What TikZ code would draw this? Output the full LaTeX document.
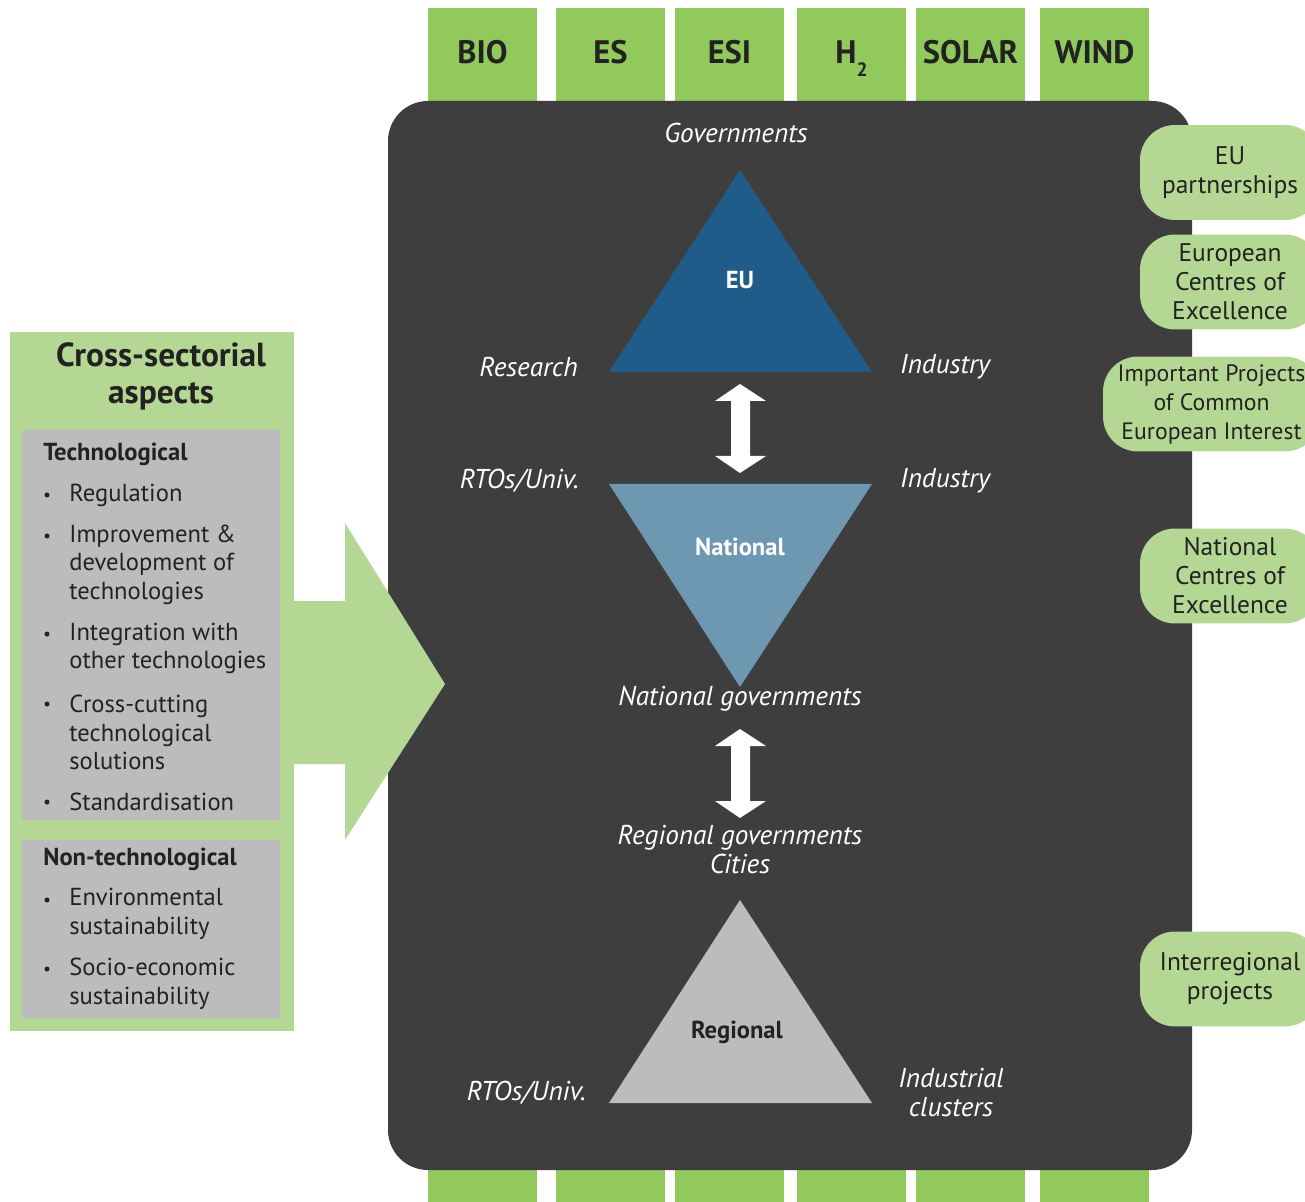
\documentclass[tikz,border=0pt]{standalone}
\usepackage{fontspec}
\setmainfont{PT Sans}
\definecolor{sectorgreen}{HTML}{92C95C}
\definecolor{panelgreen}{HTML}{B4D893}
\definecolor{boardgray}{HTML}{3E3E3E}
\definecolor{boxgray}{HTML}{BBBCBB}
\definecolor{eublue}{HTML}{1F5C8A}
\definecolor{natblue}{HTML}{6E98B2}
\definecolor{inkdark}{HTML}{222222}
\tikzset{
  sectorlabel/.style={anchor=base, text=inkdark, font=\fontsize{18.5}{18.5}\selectfont\bfseries},
  actor/.style={text=white, align=center, font=\fontsize{15.5}{16.5}\selectfont\itshape},
  level/.style={font=\fontsize{14}{15}\selectfont\bfseries},
  partner/.style={fill=panelgreen, rounded corners=0.7cm, inner sep=0, minimum height=1.9cm,
    align=center, text=inkdark, font=\fontsize{14.5}{16.5}\selectfont},
  aspecthead/.style={anchor=west, inner sep=0, text=inkdark, font=\fontsize{14}{15}\selectfont\bfseries},
  aspectitem/.style={anchor=west, inner sep=0, align=left, text=inkdark, font=\fontsize{14}{16.3}\selectfont},
  bulletdot/.style={circle, fill=inkdark, inner sep=0, minimum size=0.1cm}
}
\begin{document}
\begin{tikzpicture}[x=0.02cm, y=-0.02cm]
\useasboundingbox (0,0) rectangle (1305,1202);

\def\BOARDCOLOR{boardgray}
\def\PANELCOLOR{panelgreen}
\def\ITEMCOLOR{boxgray}
	% sector columns
	\foreach \xl/\txt [count=\i] in {428/BIO, 556/ES, 675/ESI,
	    797/{H\raisebox{-7pt}{\fontsize{11}{11}\selectfont 2}}, 916/SOLAR, 1040/WIND} {
	  \fill[sectorgreen] (\xl,8) rectangle ++ (109,1194);
	  \node[sectorlabel] (sector\i) at (\xl+54.5,64) {\txt};
	}
	\fill[\BOARDCOLOR, rounded corners=0.8cm] (388,101) rectangle (1192,1170);

	% levels
	\fill[eublue] (740,170) -- (872,372) -- (609,372) -- cycle;
	\fill[natblue] (609,484) -- (872,484) -- (740,687) -- cycle;
	\fill[boxgray] (740,900) -- (872,1103) -- (609,1103) -- cycle;
	\foreach \yt in {384, 729} {
	  \fill[white] (740,\yt) -- (766,\yt+17) -- (750,\yt+17) -- (750,\yt+72) -- (766,\yt+72)
	    -- (740,\yt+89) -- (715,\yt+72) -- (731,\yt+72) -- (731,\yt+17) -- (715,\yt+17) -- cycle;
	}
	\node[level, text=white] (eu) at (740,280) {EU};
	\node[level, text=white] (national) at (740,547) {National};
	\node[level, text=inkdark] (regional) at (737,1032) {Regional};

	\node[actor] (gov) at (736,133) {Governments};
	\node[actor, anchor=east] (research) at (584,367) {Research};
	\node[actor, anchor=west] (industry1) at (894,367) {Industry};
	\node[actor, anchor=east] (rtos1) at (585,481) {RTOs/Univ.};
	\node[actor, anchor=west] (industry2) at (894,481) {Industry};
	\node[actor] (natgov) at (740,699) {National governments};
	\node[actor] (reggov) at (740,850) {Regional governments\\Cities};
	\node[actor, anchor=east] (rtos2) at (592,1093) {RTOs/Univ.};
	\node[actor] (clusters) at (951,1093) {Industrial\\clusters};

	% partner boxes
	\node[partner, minimum width=3.6cm] (eupart) at (1230,172.5) {EU\\partnerships};
	\node[partner, minimum width=3.6cm] (eucoe) at (1230,282) {European\\Centres of\\Excellence};
	\node[partner, minimum width=4.34cm, font=\fontsize{13.5}{16.5}\selectfont]
	  (ipcei) at (1211.5,404) {Important Projects\\of Common\\European Interest};
	\node[partner, minimum width=3.6cm] (natcoe) at (1230,576) {National\\Centres of\\Excellence};
	\node[partner, minimum width=3.6cm] (interreg) at (1230,979) {Interregional\\projects};

	% cross-sectorial panel
	\fill[\PANELCOLOR] (10,332) rectangle (294,1031);
	\fill[\PANELCOLOR] (294,601) -- (345,601) -- (345,523) -- (445,684) -- (345,840)
	  -- (345,764) -- (294,764) -- cycle;
	\fill[\ITEMCOLOR] (22,430) rectangle (280,820);
	\fill[\ITEMCOLOR] (22,840) rectangle (280,1018);
	\node[align=center, text=inkdark, font=\fontsize{19}{21}\selectfont\bfseries]
	  (crosshead) at (161,376.5) {Cross-sectorial\\aspects};
	\node[aspecthead] (tech) at (43,454) {Technological};
	\node[aspecthead] (nontech) at (43,859) {Non-technological};
	\foreach \yc/\yb/\txt [count=\i] in {495/495/Regulation,
	    564.5/536/{Improvement \&\\development of\\technologies},
	    648.5/634/{Integration with\\other technologies},
	    732.5/704/{Cross-cutting\\technological\\solutions},
	    802/802/Standardisation,
	    914/900/{Environmental\\sustainability},
	    983.5/969/{Socio-economic\\sustainability}} {
	  \node[bulletdot] (dot\i) at (47,\yb) {};
	  \node[aspectitem] (item\i) at (69,\yc) {\txt};
	}

\end{tikzpicture}
\end{document}
